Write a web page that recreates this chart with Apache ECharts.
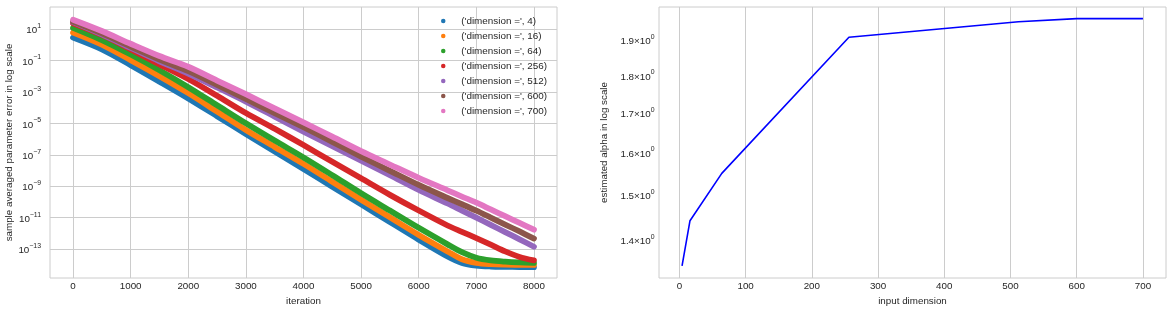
<!DOCTYPE html>
<html><head><meta charset="utf-8">
<script src="https://cdn.jsdelivr.net/npm/echarts@6/dist/echarts.min.js"></script>
<style>html,body{margin:0;padding:0;background:#fff}#c{width:1172px;height:313px}</style>
</head><body><div id="c"></div>
<script>
// ---- left panel: iteration vs log10(sample averaged parameter error) ----
const iterations = [0, 500, 1000, 1500, 2000, 2500, 3000, 3500, 4000, 4500, 5000, 5500, 6000, 6500, 6750, 7000, 7250, 7500, 7750, 8000];
const dimensionNames = ["('dimension =', 4)", "('dimension =', 16)", "('dimension =', 64)", "('dimension =', 256)", "('dimension =', 512)", "('dimension =', 600)", "('dimension =', 700)"];
// log10 of the error
const logErrDim4   = [0.45, -0.3, -1.3, -2.35, -3.42, -4.55, -5.68, -6.8, -7.9, -9.03, -10.15, -11.28, -12.4, -13.47, -13.88, -14.05, -14.11, -14.13, -14.14, -14.15];
const logErrDim16  = [0.77, 0.0, -0.98, -2.0, -3.08, -4.25, -5.42, -6.5, -7.58, -8.72, -9.86, -10.98, -12.1, -13.15, -13.65, -13.88, -13.96, -13.99, -14.0, -14.01];
const logErrDim64  = [1.08, 0.3, -0.62, -1.62, -2.7, -3.85, -5.0, -6.1, -7.17, -8.3, -9.45, -10.55, -11.65, -12.7, -13.2, -13.55, -13.72, -13.8, -13.85, -13.88];
const logErrDim256 = [1.37, 0.62, -0.3, -1.25, -2.18, -3.25, -4.35, -5.35, -6.38, -7.45, -8.5, -9.55, -10.55, -11.5, -11.9, -12.3, -12.72, -13.15, -13.5, -13.72];
const logErrDim512 = [1.44, 0.66, -0.2, -1.05, -1.83, -2.72, -3.62, -4.57, -5.53, -6.45, -7.38, -8.3, -9.24, -10.1, -10.55, -11.0, -11.46, -11.92, -12.38, -12.85];
const logErrDim600 = [1.47, 0.72, -0.12, -0.95, -1.68, -2.55, -3.45, -4.35, -5.25, -6.18, -7.12, -8.02, -8.92, -9.75, -10.15, -10.56, -11.0, -11.44, -11.88, -12.33];
const logErrDim700 = [1.59, 0.87, 0.06, -0.72, -1.4, -2.28, -3.15, -4.05, -4.94, -5.85, -6.77, -7.62, -8.47, -9.26, -9.66, -10.05, -10.48, -10.91, -11.34, -11.77];
const leftXTicks = [0, 1000, 2000, 3000, 4000, 5000, 6000, 7000, 8000];
const leftYTickExponents = [-13, -11, -9, -7, -5, -3, -1, 1];

// ---- right panel: input dimension vs estimated alpha ----
const inputDims = [4, 16, 64, 256, 512, 600, 700];
const alphaValues = [1.3456, 1.4418, 1.5499, 1.9079, 1.9538, 1.963, 1.963];
const rightXTicks = [0, 100, 200, 300, 400, 500, 600, 700];
const rightYTicks = [1.4, 1.5, 1.6, 1.7, 1.8, 1.9];

const colors = ['#1f77b4', '#ff7f0e', '#2ca02c', '#d62728', '#9467bd', '#8c564b', '#e377c2'];
const logSeries = [logErrDim4, logErrDim16, logErrDim64, logErrDim256, logErrDim512, logErrDim600, logErrDim700];

const FONT = "'Liberation Sans', Arial, sans-serif";
const TXT = '#262626';
const GRIDC = '#cccccc';
const FS = 9.8;
const supRich = {
  b: {fontSize: FS, fontFamily: FONT, color: TXT, lineHeight: 13, verticalAlign: 'bottom'},
  e: {fontSize: 6.9, fontFamily: FONT, color: TXT, lineHeight: 8, verticalAlign: 'top'}
};
const minus = s => String(s).replace('-', '\u2212');

const chart = echarts.init(document.getElementById('c'), null, {renderer: 'canvas'});
const series = logSeries.map((arr, i) => ({
  name: dimensionNames[i],
  type: 'line',
  xAxisIndex: 0, yAxisIndex: 0,
  data: iterations.map((it, k) => [it, arr[k]]),
  showSymbol: false,
  symbol: 'none',
  smooth: 0.3,
  lineStyle: {color: colors[i], width: 5.8, cap: 'round', join: 'round'},
  itemStyle: {color: colors[i]},
  emphasis: {disabled: true},
  z: 2 + i
}));
series.push({
  type: 'line',
  xAxisIndex: 1, yAxisIndex: 1,
  data: inputDims.map((d, k) => [d, Math.log10(alphaValues[k])]),
  showSymbol: false, symbol: 'none',
  lineStyle: {color: '#0000ff', width: 1.6},
  emphasis: {disabled: true}
});

chart.setOption({
  animation: false,
  backgroundColor: '#ffffff',
  textStyle: {fontFamily: FONT},
  grid: [
    {left: 50, top: 7, width: 507, height: 271, show: true, borderColor: GRIDC, borderWidth: 1, backgroundColor: 'transparent'},
    {left: 659, top: 7, width: 507, height: 271, show: true, borderColor: GRIDC, borderWidth: 1, backgroundColor: 'transparent'}
  ],
  legend: {
    orient: 'vertical', left: 436, top: 10.5,
    itemWidth: 26, itemHeight: 4.5, itemGap: 4,
    symbolKeepAspect: true,
    textStyle: {fontSize: 9.9, color: TXT, fontFamily: FONT, lineHeight: 11},
    data: dimensionNames.map(n => ({name: n, icon: 'circle'})),
    selectedMode: false
  },
  xAxis: [
    {
      type: 'value', gridIndex: 0, min: -400, max: 8400,
      name: 'iteration', nameLocation: 'middle', nameGap: 17,
      nameTextStyle: {fontSize: FS, color: TXT, fontFamily: FONT},
      axisLine: {show: false},
      axisTick: {show: false, customValues: leftXTicks},
      axisLabel: {customValues: leftXTicks, fontSize: FS, color: TXT, fontFamily: FONT, margin: 3,
        formatter: v => String(Math.round(v))},
      splitLine: {show: true, lineStyle: {color: GRIDC, width: 1}}
    },
    {
      type: 'value', gridIndex: 1, min: -30.8, max: 734.8,
      name: 'input dimension', nameLocation: 'middle', nameGap: 17,
      nameTextStyle: {fontSize: FS, color: TXT, fontFamily: FONT},
      axisLine: {show: false},
      axisTick: {show: false, customValues: rightXTicks},
      axisLabel: {customValues: rightXTicks, fontSize: FS, color: TXT, fontFamily: FONT, margin: 3,
        formatter: v => String(Math.round(v))},
      splitLine: {show: true, lineStyle: {color: GRIDC, width: 1}}
    }
  ],
  yAxis: [
    {
      type: 'value', gridIndex: 0, min: -14.84, max: 2.4,
      name: 'sample averaged parameter error in log scale', nameLocation: 'middle', nameGap: 35,
      nameTextStyle: {fontSize: FS, color: TXT, fontFamily: FONT},
      axisLine: {show: false},
      axisTick: {show: false, customValues: leftYTickExponents},
      axisLabel: {
        customValues: leftYTickExponents, margin: 9,
        formatter: v => '{b|10}{e|' + minus(Math.round(v)) + '}',
        rich: supRich
      },
      splitLine: {show: true, lineStyle: {color: GRIDC, width: 1}}
    },
    {
      type: 'value', gridIndex: 1, min: 0.12093, max: 0.30063,
      name: 'estimated alpha in log scale', nameLocation: 'middle', nameGap: 50,
      nameTextStyle: {fontSize: FS, color: TXT, fontFamily: FONT},
      axisLine: {show: false},
      axisTick: {show: false, customValues: rightYTicks.map(v => Math.log10(v))},
      axisLabel: {
        customValues: rightYTicks.map(v => Math.log10(v)), margin: 4.5,
        formatter: v => '{b|' + Math.pow(10, v).toFixed(1) + '\u00d710}{e|0}',
        rich: supRich
      },
      splitLine: {show: false}
    }
  ],
  series: series
});
</script>
</body></html>
